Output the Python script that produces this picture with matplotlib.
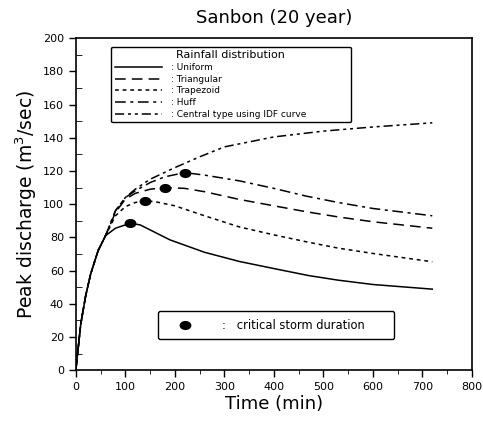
import matplotlib
matplotlib.use("Agg")
import matplotlib.pyplot as plt
from matplotlib.lines import Line2D
from matplotlib.path import Path
from matplotlib.transforms import Affine2D
from matplotlib.ticker import MultipleLocator

# ---- data ----
t_uniform = [0, 10, 20, 30, 45, 60, 80, 110, 130, 190, 260, 330, 400, 470, 530, 600, 720]
q_uniform = [0, 28, 45, 58, 72, 81, 85.5, 88.5, 87.5, 78.5, 71, 65.5, 61.2, 57, 54.2, 51.6, 48.8]

t_triang = [0, 10, 20, 30, 45, 60, 80, 100, 120, 150, 180, 220, 260, 331, 400, 466, 530, 600, 720]
q_triang = [0, 28, 45, 58, 72, 81, 95, 103, 106.5, 109, 110, 109.5, 107.5, 102.8, 99, 95.4, 92.3, 89.4, 85.5]

t_trap = [0, 10, 20, 30, 45, 60, 80, 100, 120, 140, 160, 200, 260, 330, 400, 466, 530, 600, 720]
q_trap = [0, 28, 45, 58, 72, 81, 93, 98.5, 101, 102, 101.5, 99, 93, 86.3, 81.5, 77.3, 73.5, 70.3, 65.3]

t_huff = [0, 10, 20, 30, 45, 60, 80, 100, 120, 150, 180, 220, 260, 331, 400, 466, 530, 600, 720]
q_huff = [0, 28, 45, 58, 72, 81, 96, 104, 108, 113, 116.5, 119, 117.5, 114, 109.5, 104.8, 101, 97.4, 93]

t_idf = [0, 10, 20, 30, 45, 60, 80, 100, 120, 150, 200, 250, 300, 400, 500, 600, 720]
q_idf = [0, 28, 45, 58, 72, 81, 96, 104, 109, 115, 122, 128.5, 134.5, 140.5, 144, 146.5, 149]

crit_t = [110, 140, 180, 220]
crit_q = [88.5, 102, 110, 119]

labels = [": Uniform", ": Triangular", ": Trapezoid", ": Huff", ": Central type using IDF curve"]

# ---- figure ----
fig = plt.figure(figsize=(4.83, 4.24), dpi=100)
ax = fig.add_axes([0.157, 0.127, 0.820, 0.783])

lw = 1.1
h1, = ax.plot(t_uniform, q_uniform, color="black", lw=lw, linestyle="-")
h2, = ax.plot(t_triang, q_triang, color="black", lw=lw, linestyle=(0, (7, 4)))
h3, = ax.plot(t_trap, q_trap, color="black", lw=lw, linestyle=(0, (2.5, 2.5)))
h4, = ax.plot(t_huff, q_huff, color="black", lw=lw, linestyle=(0, (7, 3, 2, 3)))
h5, = ax.plot(t_idf, q_idf, color="black", lw=lw, linestyle=(0, (6, 2.5, 2, 2.5, 2, 2.5)))

ellipse = Path.unit_circle().transformed(Affine2D().scale(1.35, 1.0))
ax.plot(crit_t, crit_q, linestyle="none", marker=ellipse, markersize=7.5,
        color="black", zorder=5)

ax.set_xlim(0, 800)
ax.set_ylim(0, 200)
ax.xaxis.set_major_locator(MultipleLocator(100))
ax.xaxis.set_minor_locator(MultipleLocator(50))
ax.yaxis.set_major_locator(MultipleLocator(20))
ax.yaxis.set_minor_locator(MultipleLocator(10))
ax.tick_params(axis="both", which="major", labelsize=8, length=5, width=1, direction="out")
ax.tick_params(axis="y", which="minor", length=4, direction="in")
ax.tick_params(axis="x", which="minor", length=3, direction="out")
for s in ax.spines.values():
    s.set_linewidth(1.2)

ax.set_title("Sanbon (20 year)", fontsize=13, pad=11)
ax.set_xlabel("Time (min)", fontsize=13, labelpad=2)
ax.set_ylabel("Peak discharge (m$^3$/sec)", fontsize=13.5, labelpad=3)

leg1 = ax.legend([h1, h2, h3, h4, h5], labels, title="Rainfall distribution",
                 loc="upper left", bbox_to_anchor=(0.078, 0.988, 0.627, 0.0),
                 mode="expand", fontsize=6.5,
                 title_fontsize=8, handlelength=5.2, handletextpad=1.0,
                 labelspacing=0.3, frameon=True, fancybox=True,
                 edgecolor="black", framealpha=1, borderpad=0.4)
leg1.get_frame().set_linewidth(1.0)
ax.add_artist(leg1)

crit_handle = Line2D([], [], linestyle="none", marker=ellipse, markersize=7.5, color="black")
leg2 = ax.legend([crit_handle], [":   critical storm duration"], loc="upper left",
                 bbox_to_anchor=(0.192, 0.195, 0.626, 0.0), mode="expand",
                 fontsize=8.3, handlelength=3.5,
                 handletextpad=1.4, frameon=True, fancybox=True,
                 edgecolor="black", framealpha=1, borderpad=0.65)
leg2.get_frame().set_linewidth(1.0)

fig.savefig("out.png", dpi=100)
